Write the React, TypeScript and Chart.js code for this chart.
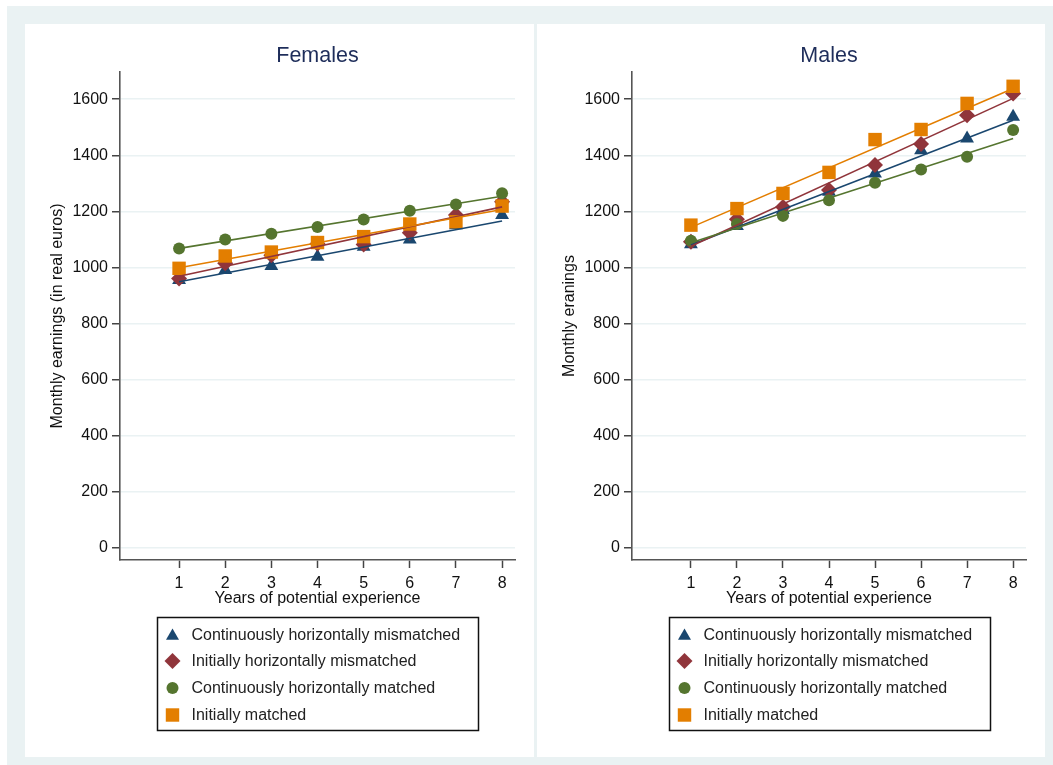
import React, { useEffect, useRef } from "react";
import { Chart, registerables } from "chart.js";

Chart.register(...registerables);

const years = [1, 2, 3, 4, 5, 6, 7, 8];
const fitYears = [1, 8];
const yTicks = [0, 200, 400, 600, 800, 1000, 1200, 1400, 1600];
const xTicks = [1, 2, 3, 4, 5, 6, 7, 8];

const seriesNames = [
  "Continuously horizontally mismatched",
  "Initially horizontally mismatched",
  "Continuously horizontally matched",
  "Initially matched",
];
const seriesColors = ["#1a476f", "#90353b", "#55752f", "#e37e00"];
const seriesMarkers = ["triangle", "rectRot", "circle", "rect"];
const markerRadius = [8, 8, 6, 9.5];

// Females
const femContMis = [955, 991, 1005, 1038, 1074, 1100, 1151, 1187];
const femInitMis = [961, 1015, 1044, 1085, 1082, 1124, 1187, 1234];
const femContMat = [1068, 1100, 1120, 1144, 1171, 1202, 1225, 1265];
const femInitMat = [997, 1041, 1055, 1089, 1110, 1155, 1163, 1219];
const femFitContMis = [949, 1166];
const femFitInitMis = [969, 1216];
const femFitContMat = [1068, 1254];
const femFitInitMat = [999, 1207];

// Males
const maleContMis = [1083, 1148, 1205, 1270, 1335, 1418, 1460, 1537];
const maleInitMis = [1092, 1172, 1216, 1276, 1365, 1440, 1543, 1620];
const maleContMat = [1095, 1155, 1184, 1240, 1302, 1349, 1395, 1490];
const maleInitMat = [1151, 1210, 1264, 1339, 1456, 1492, 1585, 1646];
const maleFitContMis = [1080, 1525];
const maleFitInitMis = [1076, 1603];
const maleFitContMat = [1088, 1460];
const maleFitInitMat = [1143, 1638];

const FONT = "'Liberation Sans', Arial, Helvetica, sans-serif";

function pts(xs: number[], ys: number[]) {
  return xs.map((x, i) => ({ x, y: ys[i] }));
}

function drawMarker(ctx: CanvasRenderingContext2D, style: string, x: number, y: number, i: number) {
  ctx.fillStyle = seriesColors[i];
  const r = markerRadius[i];
  ctx.beginPath();
  if (style === "triangle") {
    const rr = 7.5;
    for (let k = 0; k < 3; k++) {
      const a = (k * 2 * Math.PI) / 3;
      const px = x + Math.sin(a) * rr;
      const py = y + 1 - Math.cos(a) * rr;
      if (k === 0) ctx.moveTo(px, py);
      else ctx.lineTo(px, py);
    }
    ctx.closePath();
  } else if (style === "rectRot") {
    ctx.moveTo(x, y - r);
    ctx.lineTo(x + r, y);
    ctx.lineTo(x, y + r);
    ctx.lineTo(x - r, y);
    ctx.closePath();
  } else if (style === "circle") {
    ctx.arc(x, y, r, 0, Math.PI * 2);
  } else {
    const s = Math.SQRT1_2 * r;
    ctx.rect(x - s, y - s, 2 * s, 2 * s);
  }
  ctx.fill();
}

const decorPlugin = {
  id: "stataDecor",
  afterDraw(chart: any, _args: any, opts: any) {
    const ctx = chart.ctx;
    const ca = chart.chartArea;
    const cx = (ca.left + ca.right) / 2;
    ctx.save();
    // title
    ctx.font = `21.5px ${FONT}`;
    ctx.fillStyle = "#1e2d5a";
    ctx.textAlign = "center";
    ctx.textBaseline = "middle";
    ctx.fillText(opts.title, cx, 32);
    // legend
    ctx.font = `16px ${FONT}`;
    let maxW = 0;
    seriesNames.forEach((n) => {
      maxW = Math.max(maxW, ctx.measureText(n).width);
    });
    const boxW = Math.round(34 + maxW + 18);
    const boxL = Math.round(cx - boxW / 2) + 0.5;
    const boxT = 593.5;
    const boxH = 113;
    ctx.strokeStyle = "#111";
    ctx.lineWidth = 1.5;
    ctx.strokeRect(boxL, boxT, boxW, boxH);
    const rowY = [611, 637, 664, 691];
    seriesNames.forEach((n, i) => {
      drawMarker(ctx, seriesMarkers[i], boxL + 15, rowY[i], i);
      ctx.fillStyle = "#222";
      ctx.textAlign = "left";
      ctx.textBaseline = "middle";
      ctx.fillText(n, boxL + 34, rowY[i] + 1);
    });
    ctx.restore();
  },
};

function makeConfig(title: string, yTitle: string, series: number[][], fits: number[][]): any {
  const datasets: any[] = [];
  fits.forEach((f, i) => {
    datasets.push({
      type: "line",
      label: seriesNames[i] + " fit",
      data: pts(fitYears, f),
      borderColor: seriesColors[i],
      borderWidth: 1.6,
      pointRadius: 0,
      fill: false,
      order: 0 + (3 - i) * 0.1,
    });
  });
  series.forEach((s, i) => {
    datasets.push({
      type: "scatter",
      label: seriesNames[i],
      data: pts(years, s),
      backgroundColor: seriesColors[i],
      borderColor: seriesColors[i],
      borderWidth: 0,
      pointStyle: seriesMarkers[i],
      pointRadius: markerRadius[i],
      order: 1 + (3 - i) * 0.1,
    });
  });
  return {
    type: "scatter",
    data: { datasets },
    options: {
      animation: false,
      responsive: false,
      maintainAspectRatio: false,
      layout: { padding: { left: 0, right: 19, top: 48, bottom: 147 } },
      plugins: {
        legend: { display: false },
        tooltip: { enabled: false },
        title: { display: false },
        stataDecor: { title },
      },
      scales: {
        x: {
          type: "linear",
          min: -0.28,
          max: 8.28,
          afterBuildTicks: (scale: any) => {
            scale.ticks = xTicks.map((v) => ({ value: v }));
          },
          afterFit: (scale: any) => {
            scale.height = 50;
          },
          grid: {
            display: true,
            drawOnChartArea: false,
            drawTicks: true,
            tickLength: 8,
            tickColor: "#444",
            tickWidth: 1.5,
          },
          border: { display: true, color: "#555", width: 1.6 },
          ticks: {
            color: "#111",
            font: { family: FONT, size: 16 },
            padding: 6,
            maxRotation: 0,
            autoSkip: false,
            callback: (v: any) => String(v),
          },
          title: {
            display: true,
            text: "Years of potential experience",
            color: "#111",
            font: { family: FONT, size: 16 },
            padding: { top: 0, bottom: 2 },
          },
        },
        y: {
          type: "linear",
          min: -43,
          max: 1697,
          afterBuildTicks: (scale: any) => {
            scale.ticks = yTicks.map((v) => ({ value: v }));
          },
          afterFit: (scale: any) => {
            scale.width = 95;
          },
          grid: {
            display: true,
            drawOnChartArea: true,
            drawTicks: true,
            tickLength: 8,
            color: "#eaf2f3",
            lineWidth: 1.5,
            tickColor: "#444",
            tickWidth: 1.5,
          },
          border: { display: true, color: "#555", width: 1.6 },
          ticks: {
            color: "#111",
            font: { family: FONT, size: 16 },
            padding: 4,
            autoSkip: false,
            callback: (v: any) => String(v),
          },
          title: {
            display: true,
            text: yTitle,
            color: "#111",
            font: { family: FONT, size: 16 },
            padding: { top: 23, bottom: 0 },
          },
        },
      },
    },
    plugins: [decorPlugin],
  };
}

function Panel(props: { left: number; width: number; config: any }) {
  const ref = useRef<HTMLCanvasElement | null>(null);
  useEffect(() => {
    if (!ref.current) return;
    const chart = new Chart(ref.current, props.config);
    return () => chart.destroy();
  }, []);
  return (
    <div
      style={{
        position: "absolute",
        left: props.left,
        top: 18,
        width: props.width,
        height: 733,
        background: "#ffffff",
      }}
    >
      <canvas ref={ref} width={props.width} height={733} style={{ display: "block" }} />
    </div>
  );
}

export default function App() {
  const femCfg = makeConfig(
    "Females",
    "Monthly earnings (in real euros)",
    [femContMis, femInitMis, femContMat, femInitMat],
    [femFitContMis, femFitInitMis, femFitContMat, femFitInitMat]
  );
  const maleCfg = makeConfig(
    "Males",
    "Monthly eranings",
    [maleContMis, maleInitMis, maleContMat, maleInitMat],
    [maleFitContMis, maleFitInitMis, maleFitContMat, maleFitInitMat]
  );
  return (
    <div
      style={{
        position: "fixed",
        left: 0,
        top: 0,
        width: 1053,
        height: 765,
        background: "#ffffff",
        overflow: "hidden",
      }}
    >
      <div
        style={{
          position: "absolute",
          left: 7,
          top: 6,
          width: 1046,
          height: 759,
          background: "#eaf2f3",
        }}
      >
        <Panel left={18} width={509} config={femCfg} />
        <Panel left={530} width={508} config={maleCfg} />
      </div>
    </div>
  );
}
